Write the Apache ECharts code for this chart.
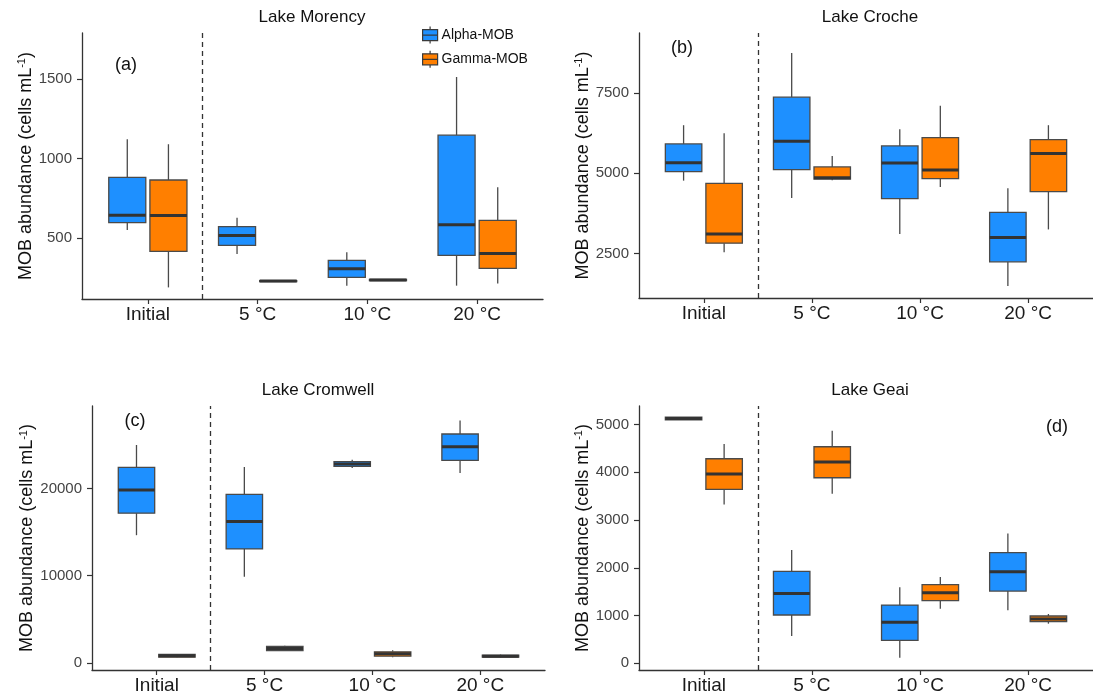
<!DOCTYPE html>
<html>
<head>
<meta charset="utf-8">
<script src="https://cdn.jsdelivr.net/npm/echarts@6/dist/echarts.min.js"></script>
<style>
  html, body { margin: 0; padding: 0; background: #fff; }
  #chart { width: 1093px; height: 696px; }
</style>
</head>
<body>
<div id="chart"></div>
<script>
// Treatments on the x axis
const categories = ['Initial', '5 °C', '10 °C', '20 °C'];
const lakes = ['Lake Morency', 'Lake Croche', 'Lake Cromwell', 'Lake Geai'];
const panelTags = ['(a)', '(b)', '(c)', '(d)'];
const groups = ['Alpha-MOB', 'Gamma-MOB'];

// Box statistics per treatment: [min, Q1, median, Q3, max] (cells mL-1)
const morencyAlpha = [[550, 597, 643, 882, 1122], [399, 454, 515, 571, 628], [200, 252, 307, 359, 410], [200, 391, 584, 1147, 1513]];
const morencyGamma = [[189, 416, 641, 865, 1090], [224, 226, 229, 232, 234], [230, 232, 236, 240, 242], [214, 309, 403, 611, 819]];
const crocheAlpha = [[4771, 5052, 5333, 5917, 6500], [4229, 5115, 6000, 7375, 8750], [3104, 4208, 5323, 5854, 6375], [1490, 2240, 3000, 3781, 4531]];
const crocheGamma = [[2542, 2823, 3104, 4687, 6250], [4780, 4820, 4860, 5200, 5542], [4573, 4833, 5104, 6115, 7104], [3250, 4427, 5615, 6052, 6500]];
const cromwellAlpha = [[14636, 17165, 19808, 22413, 24979], [9885, 13065, 16207, 19310, 22452], [22335, 22526, 22800, 23063, 23292], [21760, 23216, 24787, 26242, 27775]];
const cromwellGamma = [[600, 651, 800, 958, 1000], [1350, 1417, 1647, 1877, 1950], [650, 766, 1034, 1264, 1450], [600, 651, 766, 881, 950]];
const geaiAlpha = [[5101, 5101, 5129, 5157, 5157], [572, 1012, 1465, 1926, 2373], [119, 481, 858, 1221, 1591], [1110, 1514, 1919, 2317, 2721]];
const geaiGamma = [[3329, 3643, 3964, 4285, 4592], [3552, 3887, 4215, 4536, 4871], [1144, 1312, 1479, 1647, 1807], [830, 872, 928, 991, 1033]];

// Y tick values and axis limits per panel
const yTicks = [[500, 1000, 1500], [2500, 5000, 7500], [0, 10000, 20000], [0, 1000, 2000, 3000, 4000, 5000]];
const yLimits = [[116, 1790], [1112, 9375], [-820, 29450], [-140, 5390]];

const panelData = [
  [morencyAlpha, morencyGamma],
  [crocheAlpha, crocheGamma],
  [cromwellAlpha, cromwellGamma],
  [geaiAlpha, geaiGamma]
];

const FONT = '"Liberation Sans", Arial, sans-serif';
const COLORS = ['#1E90FF', '#FF7F00'];
const DODGE = 0.1875;      // half distance between paired boxes (x units)
const BOX_W = 0.3375;      // box width (x units)

const grids = [
  { left: 82, top: 33, width: 461, height: 266 },
  { left: 639, top: 33, width: 461, height: 265 },
  { left: 92, top: 406, width: 453, height: 264 },
  { left: 639, top: 406, width: 461, height: 264 }
];

function toItems(stats, offset) {
  return stats.map((s, i) => [i + 1 + offset].concat(s));
}

function renderBox(params, api) {
  const x = api.value(0);
  const cx = api.coord([x, api.value(3)])[0];
  const half = api.size([BOX_W, 0])[0] / 2;
  const yMin = api.coord([x, api.value(1)])[1];
  const yQ1 = api.coord([x, api.value(2)])[1];
  const yMed = api.coord([x, api.value(3)])[1];
  const yQ3 = api.coord([x, api.value(4)])[1];
  const yMax = api.coord([x, api.value(5)])[1];
  const color = api.visual('color');
  const whisker = { stroke: '#4a4a4a', lineWidth: 1.3 };
  return {
    type: 'group',
    children: [
      { type: 'line', shape: { x1: cx, y1: yMax, x2: cx, y2: yQ3 }, style: whisker },
      { type: 'line', shape: { x1: cx, y1: yQ1, x2: cx, y2: yMin }, style: whisker },
      { type: 'rect', shape: { x: cx - half, y: yQ3, width: half * 2, height: Math.max(yQ1 - yQ3, 0.5) },
        style: { fill: color, stroke: '#4a4a4a', lineWidth: 1.3 } },
      { type: 'line', shape: { x1: cx - half, y1: yMed, x2: cx + half, y2: yMed },
        style: { stroke: '#333333', lineWidth: 3 } }
    ]
  };
}

const xAxes = grids.map((g, i) => ({
  type: 'value',
  gridIndex: i,
  min: 0.4,
  max: 4.6,
  splitLine: { show: false },
  axisLine: { show: true, onZero: false, lineStyle: { color: '#333', width: 1.3 } },
  axisTick: { show: true, length: 5, customValues: [1, 2, 3, 4], lineStyle: { color: '#333', width: 1.2 } },
  axisLabel: {
    customValues: [1, 2, 3, 4],
    formatter: v => categories[Math.round(v) - 1],
    fontSize: 19, color: '#1a1a1a', fontFamily: FONT, margin: 6
  }
}));

const yAxes = grids.map((g, i) => ({
  type: 'value',
  gridIndex: i,
  min: yLimits[i][0],
  max: yLimits[i][1],
  splitLine: { show: false },
  axisLine: { show: true, onZero: false, lineStyle: { color: '#333', width: 1.3 } },
  axisTick: { show: true, length: 5, customValues: yTicks[i], lineStyle: { color: '#333', width: 1.2 } },
  axisLabel: {
    customValues: yTicks[i],
    formatter: v => String(v),
    fontSize: 15, color: '#444', fontFamily: FONT, margin: 10
  },
  name: '{t|MOB abundance (cells mL}{s|-1}{t|)}',
  nameLocation: 'middle',
  nameRotate: 90,
  nameGap: i === 2 ? 56 : 47,
  nameTextStyle: {
    rich: {
      t: { fontSize: 18, color: '#111', fontFamily: FONT },
      s: { fontSize: 11, color: '#111', fontFamily: FONT, verticalAlign: 'top' }
    }
  }
}));

const series = [];
panelData.forEach((pair, p) => {
  pair.forEach((stats, k) => {
    const s = {
      type: 'custom',
      name: groups[k],
      xAxisIndex: p,
      yAxisIndex: p,
      renderItem: renderBox,
      itemStyle: { color: COLORS[k], borderColor: '#333', borderWidth: 1.2 },
      encode: { x: 0, y: [1, 2, 3, 4, 5] },
      data: toItems(stats, k === 0 ? -DODGE : DODGE),
      silent: true,
      z: 3
    };
    if (k === 0) {
      // separator between the initial samples and the incubations
      s.markLine = {
        silent: true,
        symbol: ['none', 'none'],
        label: { show: false },
        lineStyle: { type: [5, 4], color: '#333', width: 1.3 },
        data: [{ xAxis: 1.5 }]
      };
    }
    series.push(s);
  });
});

const titleCenters = [[312, 17], [870, 17], [318, 390], [870, 390]];
const tagCenters = [[126, 65], [682, 48.5], [135, 421], [1057, 427.5]];
const graphics = [];
lakes.forEach((name, i) => {
  graphics.push({
    type: 'text', x: titleCenters[i][0], y: titleCenters[i][1],
    style: { text: name, fill: '#111', font: '17px ' + FONT, align: 'center', verticalAlign: 'middle' }
  });
  graphics.push({
    type: 'text', x: tagCenters[i][0], y: tagCenters[i][1],
    style: { text: panelTags[i], fill: '#111', font: '18px ' + FONT, align: 'center', verticalAlign: 'middle' }
  });
});

const chart = echarts.init(document.getElementById('chart'), null, { renderer: 'canvas' });
chart.setOption({
  backgroundColor: '#ffffff',
  animation: false,
  grid: grids,
  xAxis: xAxes,
  yAxis: yAxes,
  legend: {
    data: groups,
    orient: 'vertical',
    left: 422,
    top: 26,
    padding: 0,
    itemGap: 6,
    itemWidth: 15,
    itemHeight: 17,
    icon: 'path://M0,3L15,3L15,14L0,14Z M0,8.5L15,8.5 M7.5,0L7.5,3 M7.5,14L7.5,17',
    itemStyle: { borderColor: '#3a3a3a', borderWidth: 1.2 },
    textStyle: { fontSize: 14, color: '#111', fontFamily: FONT, padding: [0, 0, 0, -1] },
    selectedMode: false
  },
  graphic: graphics,
  series: series
});
</script>
</body>
</html>
